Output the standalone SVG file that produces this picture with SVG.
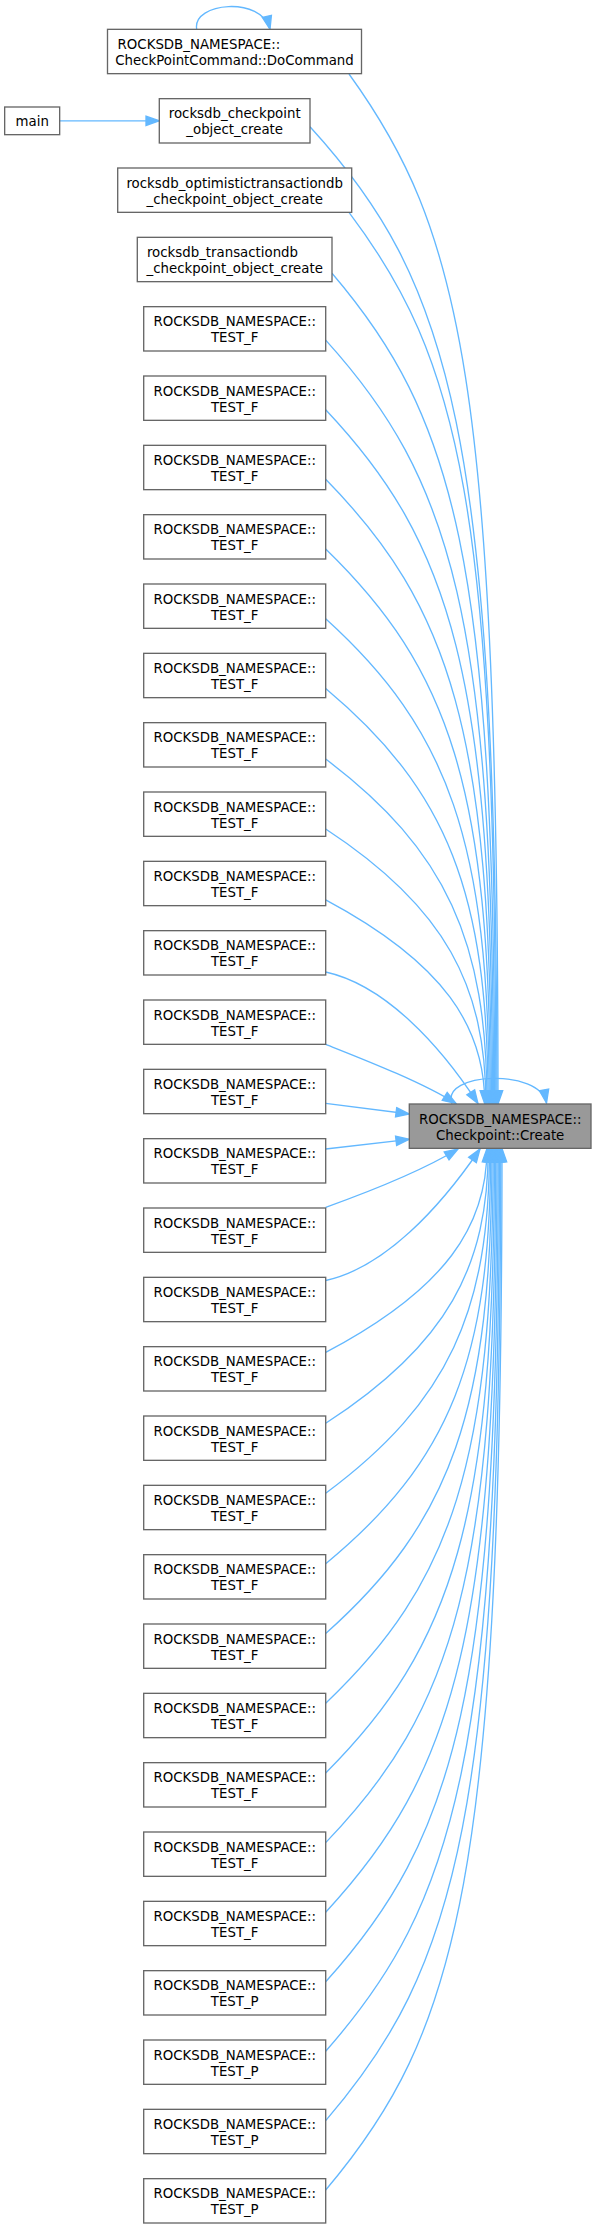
<svg xmlns="http://www.w3.org/2000/svg" width="597" height="2229" viewBox="0 0 597 2229">
<style>
.node rect{fill:#ffffff;stroke:#666666;stroke-width:1.33}
.hl rect{fill:#999999}
text{font-family:"DejaVu Sans","Liberation Sans",sans-serif;font-size:13.33px;fill:#000000;text-anchor:middle}
text.l{text-anchor:start}
.edges path{fill:none;stroke:#63b8ff;stroke-width:1.33;marker-end:url(#ah)}
</style>
<defs>
<marker id="ah" markerUnits="userSpaceOnUse" markerWidth="16" markerHeight="12" refX="13.3" refY="4.67" orient="auto" overflow="visible">
<path d="M0,0 L13.3,4.67 L0,9.33 Z" fill="#63b8ff" stroke="#63b8ff" stroke-width="1.33"/>
</marker>
</defs>
<rect width="597" height="2229" fill="#ffffff"/>
<g class="edges" id="edges">
<path d="M196.7,29.3 C192,2 262,-4 270,29.3"/>
<path d="M59.7,120.8 L159.3,120.8"/>
<path d="M452,1104 C440,1072 540,1068 546.5,1103"/>
<path d="M349,74 C460.8,228.5 498,383 498,1104"/>
<path d="M310,126.7 C450.2,280.1 496.9,433.6 496.9,1104"/>
<path d="M349,212.3 C459.1,358.5 495.8,504.8 495.8,1104"/>
<path d="M332,273.3 C454,416.2 494.7,559.9 494.7,1104"/>
<path d="M325.7,340.1 C451.6,479.1 493.6,617.4 493.6,1104"/>
<path d="M325.7,409.7 C450.8,542.3 492.5,675.6 492.5,1104"/>
<path d="M325.7,479.3 C450,606.1 491.4,732.3 491.4,1104"/>
<path d="M325.7,549 C449.2,668.9 490.3,788.2 490.3,1104"/>
<path d="M325.7,618.8 C448.3,729.9 489.2,841.5 489.2,1104"/>
<path d="M325.7,688.6 C447.5,790.8 488.1,893 488.1,1104"/>
<path d="M325.7,759 C446.7,850.4 487,941.9 487,1104"/>
<path d="M325.7,829 C445.9,907.7 485.9,986.6 485.9,1104"/>
<path d="M325.7,899.9 C445,963.7 484.8,1027.5 484.8,1104"/>
<path d="M325.7,972 C385,985 440,1045 478,1103.5"/>
<path d="M325.7,1044.3 C360,1058 420,1081 456,1103.5"/>
<path d="M325.7,1103.3 L409.3,1114"/>
<path d="M325.7,1149 L409.3,1139.3"/>
<path d="M325.7,1207.3 C360,1195 420,1172 458,1149"/>
<path d="M325.7,1280.5 C385,1267.5 440,1207.5 480,1149"/>
<path d="M325.7,1352.4 C446.7,1288.7 487,1225 487,1148.5"/>
<path d="M325.7,1423.3 C447.6,1344.7 488.25,1265.8 488.25,1148.5"/>
<path d="M325.7,1493.3 C448.6,1401.9 489.5,1310.6 489.5,1148.5"/>
<path d="M325.7,1563.7 C449.5,1461.6 490.75,1359.4 490.75,1148.5"/>
<path d="M325.7,1633.5 C450.4,1522.4 492,1410.9 492,1148.5"/>
<path d="M325.7,1703.3 C451.4,1583.5 493.25,1464.2 493.25,1148.5"/>
<path d="M325.7,1773 C452.3,1646.2 494.5,1520.1 494.5,1148.5"/>
<path d="M325.7,1842.6 C453.2,1710 495.75,1576.8 495.75,1148.5"/>
<path d="M325.7,1912.2 C454.2,1773.2 497,1635 497,1148.5"/>
<path d="M325.7,1981.8 C455.1,1838.5 498.25,1694.3 498.25,1148.5"/>
<path d="M325.7,2051.2 C456.1,1903.2 499.5,1755.1 499.5,1148.5"/>
<path d="M325.7,2120.6 C457,1968 500.75,1815.4 500.75,1148.5"/>
<path d="M325.7,2190 C457.9,2033.8 502,1877.5 502,1148.5"/>
</g>
<g class="node hl" id="create"><rect x="409.3" y="1104" width="181.7" height="44.33"/><text x="500.2" y="1123.6">ROCKSDB_NAMESPACE::</text><text x="500.2" y="1139.8">Checkpoint::Create</text></g>
<g class="node" id="main"><rect x="4.67" y="107" width="55" height="27.67"/><text x="32.2" y="125.7">main</text></g>
<g class="node" id="n0"><rect x="107.5" y="29.33" width="254" height="44.33"/><text class="l" x="117.6" y="48.93">ROCKSDB_NAMESPACE::</text><text x="234.5" y="65.13">CheckPointCommand::DoCommand</text></g>
<g class="node" id="n1"><rect x="159.3" y="98.67" width="150.7" height="44.33"/><text x="234.7" y="118.27">rocksdb_checkpoint</text><text x="234.7" y="134.47">_object_create</text></g>
<g class="node" id="n2"><rect x="117.7" y="168" width="234" height="44.33"/><text x="234.7" y="187.6">rocksdb_optimistictransactiondb</text><text x="234.7" y="203.8">_checkpoint_object_create</text></g>
<g class="node" id="n3"><rect x="137.3" y="237.33" width="194.7" height="44.33"/><text class="l" x="146.9" y="256.93">rocksdb_transactiondb</text><text x="234.7" y="273.13">_checkpoint_object_create</text></g>
<g class="node" id="n4"><rect x="143.7" y="306.67" width="182" height="44.33"/><text x="234.7" y="326.27">ROCKSDB_NAMESPACE::</text><text x="234.7" y="342.47">TEST_F</text></g>
<g class="node" id="n5"><rect x="143.7" y="376" width="182" height="44.33"/><text x="234.7" y="395.6">ROCKSDB_NAMESPACE::</text><text x="234.7" y="411.8">TEST_F</text></g>
<g class="node" id="n6"><rect x="143.7" y="445.33" width="182" height="44.33"/><text x="234.7" y="464.93">ROCKSDB_NAMESPACE::</text><text x="234.7" y="481.13">TEST_F</text></g>
<g class="node" id="n7"><rect x="143.7" y="514.67" width="182" height="44.33"/><text x="234.7" y="534.27">ROCKSDB_NAMESPACE::</text><text x="234.7" y="550.47">TEST_F</text></g>
<g class="node" id="n8"><rect x="143.7" y="584" width="182" height="44.33"/><text x="234.7" y="603.6">ROCKSDB_NAMESPACE::</text><text x="234.7" y="619.8">TEST_F</text></g>
<g class="node" id="n9"><rect x="143.7" y="653.33" width="182" height="44.33"/><text x="234.7" y="672.93">ROCKSDB_NAMESPACE::</text><text x="234.7" y="689.13">TEST_F</text></g>
<g class="node" id="n10"><rect x="143.7" y="722.67" width="182" height="44.33"/><text x="234.7" y="742.27">ROCKSDB_NAMESPACE::</text><text x="234.7" y="758.47">TEST_F</text></g>
<g class="node" id="n11"><rect x="143.7" y="792" width="182" height="44.33"/><text x="234.7" y="811.6">ROCKSDB_NAMESPACE::</text><text x="234.7" y="827.8">TEST_F</text></g>
<g class="node" id="n12"><rect x="143.7" y="861.33" width="182" height="44.33"/><text x="234.7" y="880.93">ROCKSDB_NAMESPACE::</text><text x="234.7" y="897.13">TEST_F</text></g>
<g class="node" id="n13"><rect x="143.7" y="930.67" width="182" height="44.33"/><text x="234.7" y="950.27">ROCKSDB_NAMESPACE::</text><text x="234.7" y="966.47">TEST_F</text></g>
<g class="node" id="n14"><rect x="143.7" y="1000" width="182" height="44.33"/><text x="234.7" y="1019.6">ROCKSDB_NAMESPACE::</text><text x="234.7" y="1035.8">TEST_F</text></g>
<g class="node" id="n15"><rect x="143.7" y="1069.33" width="182" height="44.33"/><text x="234.7" y="1088.93">ROCKSDB_NAMESPACE::</text><text x="234.7" y="1105.13">TEST_F</text></g>
<g class="node" id="n16"><rect x="143.7" y="1138.67" width="182" height="44.33"/><text x="234.7" y="1158.27">ROCKSDB_NAMESPACE::</text><text x="234.7" y="1174.47">TEST_F</text></g>
<g class="node" id="n17"><rect x="143.7" y="1208" width="182" height="44.33"/><text x="234.7" y="1227.6">ROCKSDB_NAMESPACE::</text><text x="234.7" y="1243.8">TEST_F</text></g>
<g class="node" id="n18"><rect x="143.7" y="1277.33" width="182" height="44.33"/><text x="234.7" y="1296.93">ROCKSDB_NAMESPACE::</text><text x="234.7" y="1313.13">TEST_F</text></g>
<g class="node" id="n19"><rect x="143.7" y="1346.67" width="182" height="44.33"/><text x="234.7" y="1366.27">ROCKSDB_NAMESPACE::</text><text x="234.7" y="1382.47">TEST_F</text></g>
<g class="node" id="n20"><rect x="143.7" y="1416" width="182" height="44.33"/><text x="234.7" y="1435.6">ROCKSDB_NAMESPACE::</text><text x="234.7" y="1451.8">TEST_F</text></g>
<g class="node" id="n21"><rect x="143.7" y="1485.33" width="182" height="44.33"/><text x="234.7" y="1504.93">ROCKSDB_NAMESPACE::</text><text x="234.7" y="1521.13">TEST_F</text></g>
<g class="node" id="n22"><rect x="143.7" y="1554.67" width="182" height="44.33"/><text x="234.7" y="1574.27">ROCKSDB_NAMESPACE::</text><text x="234.7" y="1590.47">TEST_F</text></g>
<g class="node" id="n23"><rect x="143.7" y="1624" width="182" height="44.33"/><text x="234.7" y="1643.6">ROCKSDB_NAMESPACE::</text><text x="234.7" y="1659.8">TEST_F</text></g>
<g class="node" id="n24"><rect x="143.7" y="1693.33" width="182" height="44.33"/><text x="234.7" y="1712.93">ROCKSDB_NAMESPACE::</text><text x="234.7" y="1729.13">TEST_F</text></g>
<g class="node" id="n25"><rect x="143.7" y="1762.67" width="182" height="44.33"/><text x="234.7" y="1782.27">ROCKSDB_NAMESPACE::</text><text x="234.7" y="1798.47">TEST_F</text></g>
<g class="node" id="n26"><rect x="143.7" y="1832" width="182" height="44.33"/><text x="234.7" y="1851.6">ROCKSDB_NAMESPACE::</text><text x="234.7" y="1867.8">TEST_F</text></g>
<g class="node" id="n27"><rect x="143.7" y="1901.33" width="182" height="44.33"/><text x="234.7" y="1920.93">ROCKSDB_NAMESPACE::</text><text x="234.7" y="1937.13">TEST_F</text></g>
<g class="node" id="n28"><rect x="143.7" y="1970.67" width="182" height="44.33"/><text x="234.7" y="1990.27">ROCKSDB_NAMESPACE::</text><text x="234.7" y="2006.47">TEST_P</text></g>
<g class="node" id="n29"><rect x="143.7" y="2040" width="182" height="44.33"/><text x="234.7" y="2059.6">ROCKSDB_NAMESPACE::</text><text x="234.7" y="2075.8">TEST_P</text></g>
<g class="node" id="n30"><rect x="143.7" y="2109.33" width="182" height="44.33"/><text x="234.7" y="2128.93">ROCKSDB_NAMESPACE::</text><text x="234.7" y="2145.13">TEST_P</text></g>
<g class="node" id="n31"><rect x="143.7" y="2178.67" width="182" height="44.33"/><text x="234.7" y="2198.27">ROCKSDB_NAMESPACE::</text><text x="234.7" y="2214.47">TEST_P</text></g>
</svg>
